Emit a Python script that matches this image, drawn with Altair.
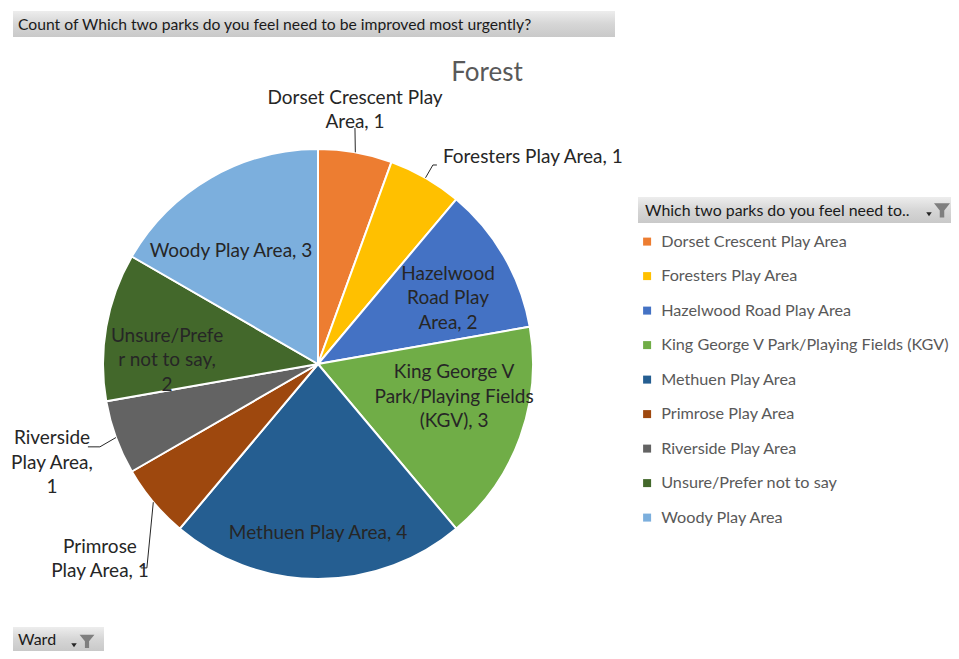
import altair as alt
import pandas as pd

# ---------------- data ----------------
PARKS = [
    "Dorset Crescent Play Area",
    "Foresters Play Area",
    "Hazelwood Road Play Area",
    "King George V Park/Playing Fields (KGV)",
    "Methuen Play Area",
    "Primrose Play Area",
    "Riverside Play Area",
    "Unsure/Prefer not to say",
    "Woody Play Area",
]
COUNTS = [1, 1, 2, 3, 4, 1, 1, 2, 3]
COLORS = ["#ED7D31", "#FFC000", "#4472C4", "#70AD47", "#255E91",
          "#9E480E", "#636363", "#43682B", "#7CAFDD"]
# label text as wrapped in the original
LABEL_NAMES = [
    "Dorset Crescent Play\nArea",
    "Foresters Play Area",
    "Hazelwood\nRoad Play\nArea",
    "King George V\nPark/Playing Fields\n(KGV)",
    "Methuen Play Area",
    "Primrose\nPlay Area",
    "Riverside\nPlay Area",
    "Unsure/Prefe\nr not to say",
    "Woody Play Area",
]
LABEL_SEP = [" ", " ", " ", " ", " ", " ", "\n", "\n", " "]

TITLE = "Forest"
FIELD_BUTTON = "Count of Which two parks do you feel need to be improved most urgently?"
LEGEND_BUTTON = "Which two parks do you feel need to.."
WARD_BUTTON = "Ward"

# ---------------- style ----------------
CX, CY, R = 310, 356, 215
FONT = "Lato"
LH = 24.5
# label placement: (radius px, angle offset deg from slice middle, align)
LABEL_STYLE = [
    (256.7, -1.7, "center"),
    (241.8, 1.1, "left"),
    (145.8, 3.1, "center"),
    (140.0, -6.4, "center"),
    (169.0, 0.0, "center"),
    (292.5, -1.8, "center"),
    (283.8, -0.4, "center"),
    (151.0, -8.5, "center"),
    (142.6, -7.6, "center"),
]
# leader lines: (elbow radius, elbow angle offset deg, horizontal tail px) ; None = no leader
LEADER_STYLE = [
    (238.9, -1.1, 0), (229.8, 0.0, 4), None, None, None,
    (266.2, -10.0, -6), (233.3, -0.8, -12), None, None,
]

rows = []
for i, (p, c) in enumerate(zip(PARKS, COUNTS)):
    lr, lda, al = LABEL_STYLE[i]
    ld = LEADER_STYLE[i]
    rows.append({
        "park": p, "count": c, "order": i,
        "label": LABEL_NAMES[i] + "," + LABEL_SEP[i] + str(c),
        "lr": lr, "lda": lda, "align": al,
        "has_leader": ld is not None,
        "er": ld[0] if ld else 0, "eda": ld[1] if ld else 0, "tail": ld[2] if ld else 0,
    })
df = pd.DataFrame(rows)

base = (
    alt.Chart(df)
    .transform_window(cum="sum(count)", sort=[alt.SortField("order")])
    .transform_joinaggregate(total="sum(count)")
    .transform_calculate(mid="2*PI*(datum.cum - datum.count/2)/datum.total")
)

legend = alt.Legend(
    orient="none", legendX=631, legendY=225.5, title=None,
    symbolType="square", symbolSize=64, symbolStrokeWidth=0,
    labelFont=FONT, labelFontSize=16.2, labelColor="#595959",
    rowPadding=17.5, labelOffset=6, padding=0, labelLimit=400,
)

pie = base.mark_arc(outerRadius=R, stroke="white", strokeWidth=2).encode(
    theta=alt.Theta("count:Q", stack=True),
    order=alt.Order("order:Q"),
    color=alt.Color("park:N", scale=alt.Scale(domain=PARKS, range=COLORS), legend=legend),
    x=alt.value(CX),
    y=alt.value(CY),
)

lab = base.transform_calculate(
    la="datum.mid + datum.lda*PI/180",
    nl="length(split(datum.label, '\\n'))",
).transform_calculate(
    lx=f"{CX} + datum.lr*sin(datum.la)",
    ly=f"{CY} - datum.lr*cos(datum.la) - (datum.nl - 1)*{LH}/2",
)

def label_layer(align):
    return lab.transform_filter(f"datum.align == '{align}'").mark_text(
        font=FONT, fontSize=19, color="#262626", lineBreak="\n",
        lineHeight=LH, baseline="middle", align=align,
    ).encode(
        x=alt.X("lx:Q", scale=None, axis=None),
        y=alt.Y("ly:Q", scale=None, axis=None),
        text="label:N",
    )

lead = base.transform_filter("datum.has_leader").transform_calculate(
    ea="datum.mid + datum.eda*PI/180",
).transform_calculate(
    sx=f"{CX} + {R}*sin(datum.mid)",
    sy=f"{CY} - {R}*cos(datum.mid)",
    ex=f"{CX} + datum.er*sin(datum.ea)",
    ey=f"{CY} - datum.er*cos(datum.ea)",
).transform_calculate(tx="datum.ex + datum.tail")

leader1 = lead.mark_rule(color="#262626", strokeWidth=1).encode(
    x=alt.X("sx:Q", scale=None, axis=None), y=alt.Y("sy:Q", scale=None, axis=None),
    x2="ex:Q", y2="ey:Q",
)
leader2 = lead.mark_rule(color="#262626", strokeWidth=1).encode(
    x=alt.X("ex:Q", scale=None, axis=None), y=alt.Y("ey:Q", scale=None, axis=None),
    x2="tx:Q", y2="ey:Q",
)

# ---------------- pivot field buttons (chrome) ----------------
ONE = pd.DataFrame({"k": [1]})
GRAD = alt.LinearGradient(
    gradient="linear", x1=0, x2=0, y1=0, y2=1,
    stops=[alt.GradientStop(color="#ededed", offset=0),
           alt.GradientStop(color="#d6d6d6", offset=0.5),
           alt.GradientStop(color="#c9c9c9", offset=1)],
)

def button(x, x2, y, y2, text, size, pad=5):
    r = alt.Chart(ONE).mark_rect(color=GRAD).encode(
        x=alt.value(x), x2=alt.value(x2), y=alt.value(y), y2=alt.value(y2))
    t = alt.Chart(ONE).mark_text(
        text=text, font=FONT, fontSize=size, color="#1a1a1a", align="left", baseline="middle"
    ).encode(x=alt.value(x + pad), y=alt.value((y + y2) / 2 + 1))
    return r + t

FUNNEL = "M-1,-0.85 L1,-0.85 L0.28,0.05 L0.28,0.95 L-0.28,0.95 L-0.28,0.05 Z"
ARROW = "M-1,-0.6 L1,-0.6 L0,0.8 Z"

def funnel(x, y, size=256):
    f = alt.Chart(ONE).mark_point(shape=FUNNEL, filled=True, color="#7f7f7f", size=size, opacity=1).encode(
        x=alt.value(x), y=alt.value(y))
    a = alt.Chart(ONE).mark_point(shape=ARROW, filled=True, color="#262626", size=30, opacity=1).encode(
        x=alt.value(x - 13), y=alt.value(y + 4))
    return f + a

title = alt.Chart(ONE).mark_text(
    text=TITLE, font=FONT, fontSize=26, color="#595959", align="center", baseline="middle"
).encode(x=alt.value(479), y=alt.value(65))

chart = alt.layer(
    button(5, 607, 3, 29, FIELD_BUTTON, 15.7),
    button(630, 951, 189, 215, LEGEND_BUTTON, 15.9, pad=7),
    funnel(934, 202),
    button(5, 96, 619, 643, WARD_BUTTON, 16),
    funnel(79, 633, 220),
    pie, leader1, leader2,
    label_layer("center"), label_layer("left"),
    title,
).properties(
    width=943, height=643, padding=0, autosize=alt.AutoSizeParams(type="none"),
).configure_view(stroke=None)

chart.save("out.html", embed_options={"renderer": "svg", "actions": False})
